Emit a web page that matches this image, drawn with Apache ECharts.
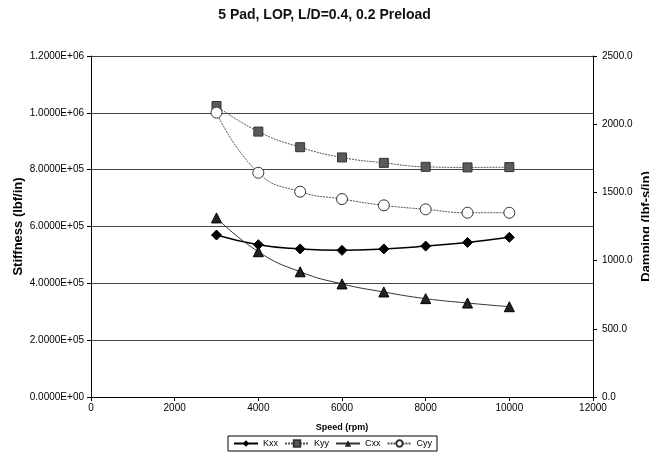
<!DOCTYPE html>
<html>
<head>
<meta charset="utf-8">
<script src="https://cdn.jsdelivr.net/npm/echarts@6/dist/echarts.min.js"></script>
<style>
html,body{margin:0;padding:0;background:#fff;}
#chart{width:649px;height:465px;}
</style>
</head>
<body>
<div id="chart"></div>
<script>
var speeds = [3000, 4000, 5000, 6000, 7000, 8000, 9000, 10000];
var kxx = [570000, 536000, 521000, 516000, 521000, 531000, 544000, 562000];
var kyy = [1024000, 934000, 879000, 843000, 824000, 810000, 808000, 809000];
var cxx = [1313, 1065, 918, 829, 770, 721, 689, 662];
var cyy = [2085, 1644, 1505, 1451, 1405, 1376, 1351, 1351];
var seriesNames = ['Kxx', 'Kyy', 'Cxx', 'Cyy'];
var titleText = '5 Pad, LOP, L/D=0.4, 0.2 Preload';

function pairs(xs, ys) { return xs.map(function (x, i) { return [x, ys[i]]; }); }
function sci(v) {
  var s = Number(v).toExponential(4).toUpperCase();
  var m = s.split('E');
  var exp = parseInt(m[1], 10);
  var sign = exp < 0 ? '-' : '+';
  var a = Math.abs(exp);
  return m[0] + 'E' + sign + (a < 10 ? '0' + a : a);
}

var font = '"Liberation Sans", Arial, sans-serif';
var chart = echarts.init(document.getElementById('chart'));
chart.setOption({
  animation: false,
  backgroundColor: '#fff',
  textStyle: { fontFamily: font, color: '#000' },
  title: {
    text: titleText, left: 'center', top: 3,
    textStyle: { fontFamily: font, fontSize: 14, fontWeight: 'bold', color: '#111' }
  },
  legend: {
    data: seriesNames, bottom: 14, left: 228,
    borderColor: '#000', borderWidth: 1, padding: [3, 5], itemGap: 6,
    itemWidth: 24, itemHeight: 8,
    textStyle: { fontFamily: font, fontSize: 9, color: '#000' }
  },
  grid: { left: 91, right: 56, top: 56, bottom: 68, outerBoundsMode: 'none', containLabel: false },
  xAxis: {
    type: 'value', min: 0, max: 12000, interval: 2000,
    name: 'Speed (rpm)', nameLocation: 'middle', nameGap: 26,
    nameTextStyle: { fontFamily: font, fontSize: 9, fontWeight: 'bold' },
    axisLine: { lineStyle: { color: '#000', width: 1 } },
    axisTick: { show: true, length: 4, lineStyle: { color: '#000' } },
    axisLabel: { fontFamily: font, fontSize: 10, color: '#000', margin: 6,
      formatter: function (v) { return String(v); } },
    splitLine: { show: false }
  },
  yAxis: [{
    type: 'value', min: 0, max: 1200000, interval: 200000,
    name: 'Stiffness (lbf/in)', nameLocation: 'middle', nameGap: 66, nameMoveOverlap: false,
    nameTextStyle: { fontFamily: font, fontSize: 13, fontWeight: 'bold' },
    axisLine: { show: true, lineStyle: { color: '#000', width: 1 } },
    axisTick: { show: true, length: 4, lineStyle: { color: '#000' } },
    axisLabel: { fontFamily: font, fontSize: 10, color: '#000', margin: 7, formatter: sci },
    splitLine: { show: true, lineStyle: { color: '#444', width: 1 } }
  }, {
    type: 'value', min: 0, max: 2500, interval: 500, position: 'right',
    name: 'Damping (lbf-s/in)', nameLocation: 'middle', nameGap: 47, nameRotate: 90, nameMoveOverlap: false,
    nameTextStyle: { fontFamily: font, fontSize: 13, fontWeight: 'bold' },
    axisLine: { show: true, lineStyle: { color: '#000', width: 1 } },
    axisTick: { show: true, length: 4, lineStyle: { color: '#000' } },
    axisLabel: { fontFamily: font, fontSize: 10, color: '#000', margin: 9,
      formatter: function (v) { return Number(v).toFixed(1); } },
    splitLine: { show: false }
  }],
  series: [{
    name: 'Kxx', type: 'line', yAxisIndex: 0, smooth: true,
    data: pairs(speeds, kxx),
    symbol: 'diamond', symbolSize: 10,
    lineStyle: { color: '#000', width: 1.5 },
    itemStyle: { color: '#000', borderColor: '#000' }
  }, {
    name: 'Kyy', type: 'line', yAxisIndex: 0, smooth: true,
    data: pairs(speeds, kyy),
    symbol: 'rect', symbolSize: 9,
    lineStyle: { color: '#555', width: 1, type: [2, 1] },
    itemStyle: { color: '#5a5a5a', borderColor: '#333', borderWidth: 1 }
  }, {
    name: 'Cxx', type: 'line', yAxisIndex: 1, smooth: true,
    data: pairs(speeds, cxx),
    symbol: 'triangle', symbolSize: 10,
    lineStyle: { color: '#333', width: 1 },
    itemStyle: { color: '#222', borderColor: '#000' }
  }, {
    name: 'Cyy', type: 'line', yAxisIndex: 1, smooth: true,
    data: pairs(speeds, cyy),
    symbol: 'circle', symbolSize: 11,
    lineStyle: { color: '#555', width: 1, type: [2, 1] },
    itemStyle: { color: '#fff', borderColor: '#333', borderWidth: 1 }
  }]
});
</script>
</body>
</html>
